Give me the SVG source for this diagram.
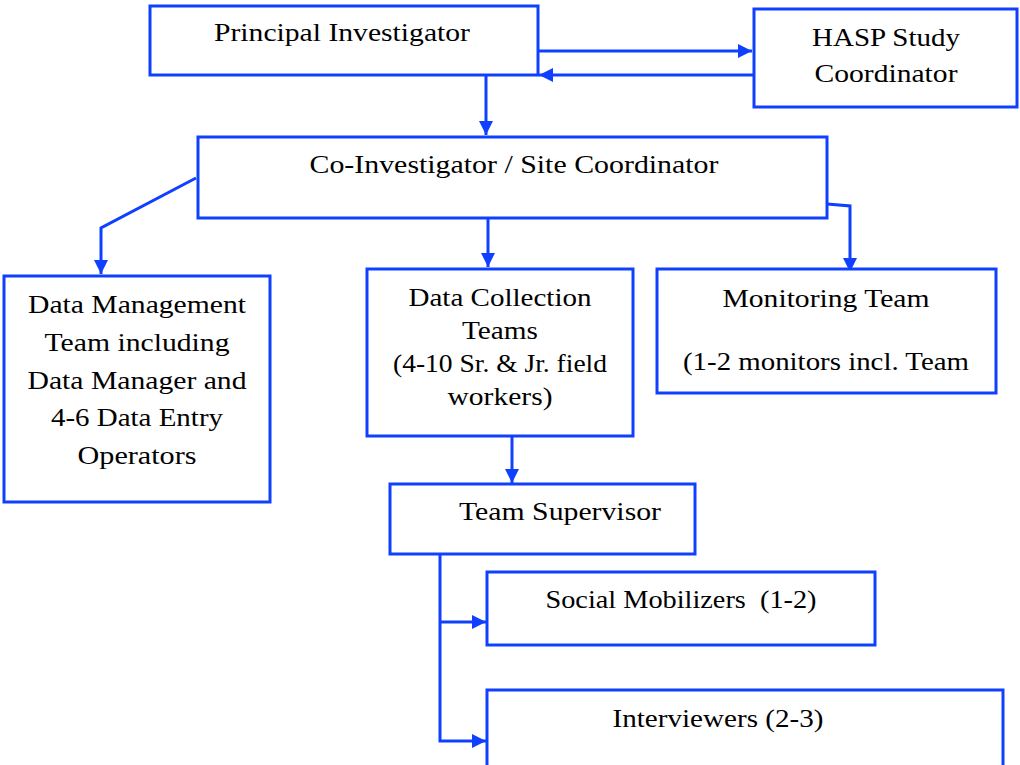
<svg xmlns="http://www.w3.org/2000/svg" width="1020" height="765" viewBox="0 0 1020 765">
<defs>
<style>
.box{fill:#fff;stroke:#1040ff;stroke-width:3}
.ln{fill:none;stroke:#1040ff;stroke-width:3}
text{font-family:"Liberation Serif","DejaVu Serif",serif;font-size:26px;fill:#000;text-anchor:middle}
</style>
<marker id="ah" viewBox="0 0 10 10" refX="10" refY="5" markerWidth="14" markerHeight="14" markerUnits="userSpaceOnUse" orient="auto">
<path d="M0,0 L10,5 L0,10 z" fill="#1040ff"/>
</marker>
</defs>
<rect width="1020" height="765" fill="#fff"/>
<g id="connectors">
<path class="ln" d="M538,51 H752" marker-end="url(#ah)"/>
<path class="ln" d="M753,75 H539" marker-end="url(#ah)"/>
<path class="ln" d="M486,75 V135" marker-end="url(#ah)"/>
<path class="ln" d="M196,178 L101,228 V274" marker-end="url(#ah)"/>
<path class="ln" d="M488,218 V267" marker-end="url(#ah)"/>
<path class="ln" d="M827,204 L850,206 V272" marker-end="url(#ah)"/>
<path class="ln" d="M512,436 V483" marker-end="url(#ah)"/>
<path class="ln" d="M440,554 V741 H486" marker-end="url(#ah)"/>
<path class="ln" d="M440,622 H486" marker-end="url(#ah)"/>
</g>
<g id="pi">
<rect class="box" x="150" y="6" width="388" height="69"/>
<text x="342" y="41" textLength="256" lengthAdjust="spacingAndGlyphs">Principal Investigator</text>
</g>
<g id="hasp">
<rect class="box" x="754" y="9" width="263" height="98"/>
<text x="886" y="46" textLength="148" lengthAdjust="spacingAndGlyphs">HASP Study</text>
<text x="886" y="82" textLength="143" lengthAdjust="spacingAndGlyphs">Coordinator</text>
</g>
<g id="coinv">
<rect class="box" x="198" y="137" width="629" height="81"/>
<text x="514" y="173" textLength="409" lengthAdjust="spacingAndGlyphs">Co-Investigator / Site Coordinator</text>
</g>
<g id="dm">
<rect class="box" x="4" y="276" width="266" height="226"/>
<text x="137" y="313" textLength="218" lengthAdjust="spacingAndGlyphs">Data Management</text>
<text x="137" y="351" textLength="185" lengthAdjust="spacingAndGlyphs">Team including</text>
<text x="137" y="389" textLength="219" lengthAdjust="spacingAndGlyphs">Data Manager and</text>
<text x="137" y="426" textLength="172" lengthAdjust="spacingAndGlyphs">4-6 Data Entry</text>
<text x="137" y="464" textLength="119" lengthAdjust="spacingAndGlyphs">Operators</text>
</g>
<g id="dc">
<rect class="box" x="367" y="269" width="266" height="167"/>
<text x="500" y="306" textLength="183" lengthAdjust="spacingAndGlyphs">Data Collection</text>
<text x="500" y="339" textLength="76" lengthAdjust="spacingAndGlyphs">Teams</text>
<text x="500" y="372" textLength="214" lengthAdjust="spacingAndGlyphs">(4-10 Sr. &amp; Jr. field</text>
<text x="500" y="405" textLength="105" lengthAdjust="spacingAndGlyphs">workers)</text>
</g>
<g id="mon">
<rect class="box" x="657" y="269" width="339" height="124"/>
<text x="826" y="307" textLength="207" lengthAdjust="spacingAndGlyphs">Monitoring Team</text>
<text x="826" y="370" textLength="286" lengthAdjust="spacingAndGlyphs">(1-2 monitors incl. Team</text>
</g>
<g id="ts">
<rect class="box" x="390" y="484" width="305" height="70"/>
<text x="560" y="520" textLength="202" lengthAdjust="spacingAndGlyphs">Team Supervisor</text>
</g>
<g id="sm">
<rect class="box" x="487" y="572" width="388" height="73"/>
<text x="681" y="608" xml:space="preserve" textLength="271" lengthAdjust="spacingAndGlyphs">Social Mobilizers  (1-2)</text>
</g>
<g id="iv">
<rect class="box" x="487" y="690" width="516" height="78"/>
<text x="718" y="727" textLength="211" lengthAdjust="spacingAndGlyphs">Interviewers (2-3)</text>
</g>
</svg>
